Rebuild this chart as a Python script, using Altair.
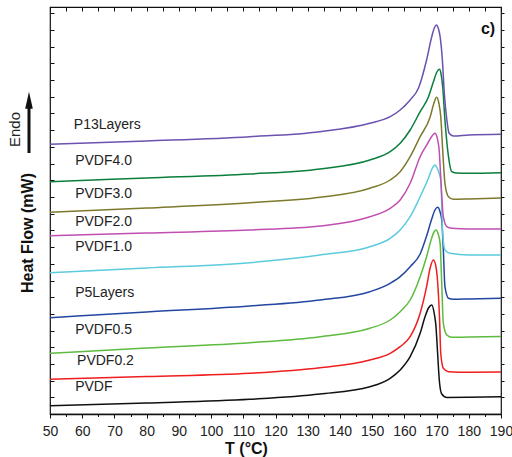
import altair as alt
import pandas as pd

FONT = "Liberation Sans"

NAMES = ["PVDF", "PVDF0.2", "PVDF0.5", "P5Layers", "PVDF1.0",
         "PVDF2.0", "PVDF3.0", "PVDF4.0", "P13Layers"]
COLORS = ["#111111", "#F01E1E", "#5DBB3F", "#2446A0", "#5CCBDD",
          "#C04FB0", "#7D7A2C", "#0B7E3C", "#6A52AE"]

T_PVDF = [50, 80, 112, 133.8, 149.3, 155.6, 158.7, 161.8, 164.9, 166.5, 167.5, 168.5, 169.3, 169.8, 170.3, 170.9, 171.6, 173.2, 180, 190]
HF_PVDF = [8.3, 11, 14.7, 20, 27.3, 35.7, 44, 57.3, 80.7, 98, 106, 109, 100, 88, 62, 32, 20, 16.5, 16.7, 17.3]

T_02 = [50, 80, 112, 133.8, 149.3, 155.6, 158.7, 161.8, 164.9, 166.9, 168.0, 169.0, 169.7, 170.2, 170.9, 171.3, 172.1, 173.7, 180, 190]
HF_02 = [34.7, 37.5, 40.7, 46.3, 54, 60.7, 67.3, 77.3, 100.7, 127.3, 146, 154, 149, 137.3, 97.3, 60.7, 45.7, 42.3, 41.7, 42]

T_05 = [50, 80, 112, 133.8, 149.3, 155.6, 158.7, 161.8, 164.9, 166.9, 168.3, 169.2, 169.8, 170.5, 171.1, 171.6, 172.1, 173.2, 174.7, 180, 190]
HF_05 = [60.7, 66, 71.3, 77.3, 85.7, 94, 102.3, 114, 137.3, 157.3, 174, 182, 184, 180, 170.7, 130.7, 90.7, 79, 76.7, 77, 77.5]

T_P5 = [50, 80, 112, 133.8, 149.3, 155.6, 158.7, 161.8, 164.9, 166.9, 168.5, 169.5, 170.4, 171.0, 171.6, 172.1, 172.6, 173.7, 175.2, 180, 190]
HF_P5 = [96.3, 102, 108, 114, 122.3, 130.7, 137.3, 147.3, 160, 178, 195, 204, 206.7, 203, 194, 164, 127.3, 115.7, 114.7, 115, 115.7]

T_10 = [50, 80, 112, 133.8, 149.3, 155.6, 158.7, 161.8, 164.9, 167.5, 168.7, 169.5, 170.3, 171.3, 171.9, 172.6, 174.2, 180, 190]
HF_10 = [141.3, 146, 151.3, 159, 167.3, 175.7, 184, 197.3, 217.3, 236, 246, 249, 245, 234, 180.7, 164, 160.7, 159, 159]

T_20 = [50, 80, 112, 133.8, 149.3, 155.6, 158.7, 161.8, 164.9, 167.3, 168.6, 169.5, 170.2, 170.8, 171.4, 172.1, 173.2, 174.7, 180, 190]
HF_20 = [178.3, 181, 184, 188, 197.3, 205.7, 214, 230.7, 257.3, 271, 278, 280.7, 276, 264, 230.7, 197.3, 187.3, 185.7, 185, 185]

T_30 = [50, 80, 112, 133.8, 149.3, 155.6, 158.7, 161.8, 164.9, 168.0, 169.1, 170.0, 170.7, 171.3, 171.9, 172.6, 173.7, 175.2, 180, 190]
HF_30 = [201.7, 206, 211.3, 216.7, 225.7, 234, 242.3, 257.3, 277.3, 297, 310, 316.7, 311, 297.3, 264, 230.7, 217.3, 214.7, 215, 216]

T_40 = [50, 80, 112, 133.8, 149.3, 155.6, 158.7, 161.8, 164.9, 167.5, 169.0, 170.1, 170.9, 171.4, 171.9, 172.6, 173.7, 174.7, 176, 180, 190]
HF_40 = [232.3, 236, 240, 245, 254, 262.3, 270.7, 284, 302.3, 317.3, 332, 342, 344.7, 340, 327.3, 294, 257.3, 242.3, 241, 240.7, 241.3]

T_P13 = [50, 80, 112, 133.8, 149.3, 155.6, 158.7, 161.8, 164.4, 166.9, 168.5, 169.3, 170.0, 170.6, 171.1, 171.8, 172.4, 173.2, 173.9, 175.2, 180, 190]
HF_P13 = [269.7, 273, 277.3, 282.3, 290.7, 297.3, 304, 314, 326, 354, 377.3, 386, 389, 385, 377.3, 354, 320.7, 294, 280.7, 278, 279, 279.7]

LABEL_T = [57.8, 58.4, 57.8, 57.8, 57.8, 57.8, 57.8, 57.8, 57.4]
LABEL_HF = [26.7, 53.3, 84, 121.3, 166.7, 192, 220, 253.3, 289]

X_TICKS = list(range(50, 191, 5))
Y_TICKS = [round(384 - 16.7 * k, 1) for k in range(-1, 24) if 384 - 16.7 * k >= 0]

T_ALL = [T_PVDF, T_02, T_05, T_P5, T_10, T_20, T_30, T_40, T_P13]
HF_ALL = [HF_PVDF, HF_02, HF_05, HF_P5, HF_10, HF_20, HF_30, HF_40, HF_P13]

rows = []
for name, ts, hs in zip(NAMES, T_ALL, HF_ALL):
    for t, h in zip(ts, hs):
        rows.append({"name": name, "T": t, "HF": h})
df = pd.DataFrame(rows)
lab_df = pd.DataFrame({"name": NAMES, "T": LABEL_T, "HF": LABEL_HF})

xs = alt.Scale(domain=[50, 190], nice=False, zero=False)
ys = alt.Scale(domain=[0, 407], nice=False, zero=False)

minor_cond = {"condition": {"test": "datum.value % 10 === 0", "value": 4}, "value": 2.5}

bottom_axis = alt.Axis(
    orient="bottom", values=X_TICKS, grid=False,
    labelExpr="datum.value % 10 === 0 ? datum.label : ''",
    labelOverlap=False, labelFlush=False, labelPadding=6,
    labelFontSize=14, labelFont=FONT, labelColor="#222",
    tickSize=minor_cond, tickColor="#111", tickWidth=1,
    domain=True, domainColor="#111", domainWidth=1.6,
    title="T (°C)", titleFont=FONT, titleFontSize=16, titleFontWeight="bold",
    titleColor="#111", titleX=196, titleY=34, titleBaseline="middle",
    titleAnchor="start", titleAlign="center",
)
left_axis = alt.Axis(
    orient="left", values=Y_TICKS, grid=False, labels=False,
    domain=False, tickSize=4, offset=-4, tickColor="#111",
    title="Heat Flow (mW)", titleFont=FONT, titleFontSize=16,
    titleFontWeight="bold", titleColor="#111", titleX=-27, titleY=225.5,
    titleBaseline="middle", titleAlign="center", titleAngle=270,
)
top_axis = alt.Axis(
    orient="top", values=X_TICKS, grid=False, labels=False, domain=False,
    tickSize=4, offset=-4, tickColor="#111", title=None,
)
right_axis = alt.Axis(
    orient="right", values=Y_TICKS, grid=False, labels=False, domain=False,
    tickSize=3, tickColor="#111", title=None,
)

lines = alt.Chart(df).mark_line(strokeWidth=1.5, interpolate="monotone").encode(
    x=alt.X("T:Q", scale=xs, axis=bottom_axis),
    y=alt.Y("HF:Q", scale=ys, axis=left_axis),
    color=alt.Color("name:N", scale=alt.Scale(domain=NAMES, range=COLORS), legend=None),
)

labels = alt.Chart(lab_df).mark_text(
    align="left", baseline="middle", fontSize=14, font=FONT, color="#222"
).encode(
    x=alt.X("T:Q", scale=xs, axis=top_axis),
    y=alt.Y("HF:Q", scale=ys, axis=right_axis),
    text="name:N",
)

one = alt.Data(values=[{"k": 0}])
endo = alt.Chart(one).mark_text(
    text="Endo", angle=270, fontSize=15, font=FONT, color="#222",
    align="center", baseline="middle"
).encode(x=alt.value(-35), y=alt.value(122.5))
shaft = alt.Chart(one).mark_rule(strokeWidth=3, color="#111").encode(
    x=alt.value(-21), y=alt.value(96), y2=alt.value(146)
)
head = alt.Chart(one).mark_point(
    shape="M0,-1L0.45,1L-0.45,1Z", size=289, filled=True, opacity=1, color="#111"
).encode(x=alt.value(-21), y=alt.value(93.2))
ctext = alt.Chart(one).mark_text(
    text="c)", fontSize=16, font=FONT, fontWeight="bold", color="#111",
    align="center", baseline="middle"
).encode(x=alt.value(438), y=alt.value(22))

chart = alt.layer(lines, labels, endo, shaft, head, ctext).resolve_axis(
    x="independent", y="independent"
).properties(
    width=451, height=407,
    autosize=alt.AutoSizeParams(type="none"),
    padding={"left": 50, "top": 7, "right": 11, "bottom": 43},
    background="white",
).configure_view(stroke="#111", strokeWidth=1.2)

chart.save("out.html", embed_options={"renderer": "svg", "actions": False})
